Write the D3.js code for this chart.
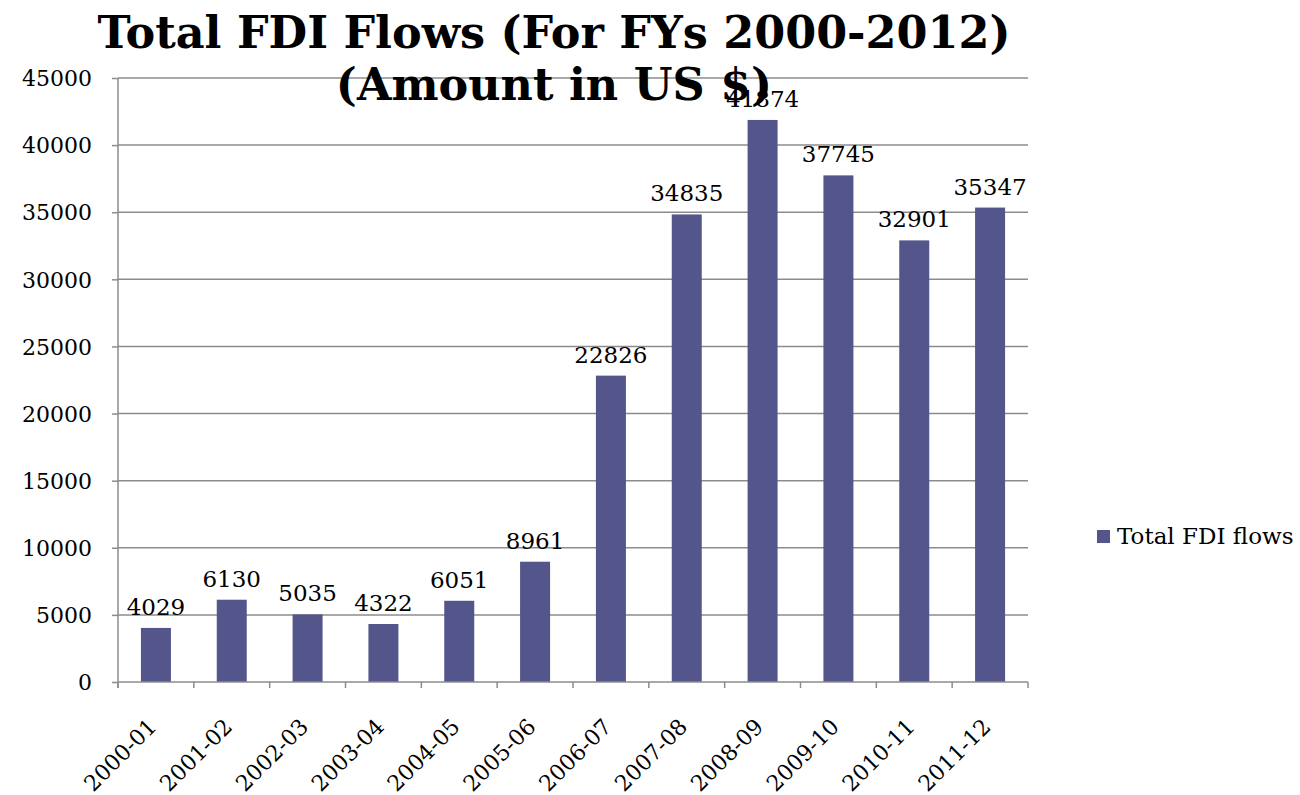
<!DOCTYPE html>
<html>
<head>
<meta charset="utf-8">
<script src="https://cdn.jsdelivr.net/npm/d3@7"></script>
<style>
  html, body { margin: 0; padding: 0; background: #fff; }
  svg { display: block; }
</style>
</head>
<body>
<svg id="chart" width="1300" height="795"></svg>
<script>
// Fiscal years and total FDI flows (US $)
const years = ["2000-01", "2001-02", "2002-03", "2003-04", "2004-05", "2005-06",
               "2006-07", "2007-08", "2008-09", "2009-10", "2010-11", "2011-12"];
const fdiFlows = [4029, 6130, 5035, 4322, 6051, 8961, 22826, 34835, 41874, 37745, 32901, 35347];
const yTicks = [0, 5000, 10000, 15000, 20000, 25000, 30000, 35000, 40000, 45000];
const seriesName = "Total FDI flows";
const titleLines = ["Total FDI Flows (For FYs 2000-2012)", "(Amount in US $)"];

const svg = d3.select("#chart");
const serif = "'DejaVu Serif', 'Liberation Serif', serif";
const barColor = "#54558a";
const gridColor = "#8c8c8c";

const plot = { left: 118, right: 1028, top: 78, bottom: 682 };

const x = d3.scaleBand().domain(years).range([plot.left, plot.right]).paddingInner(0).paddingOuter(0);
const y = d3.scaleLinear().domain([0, 45000]).range([plot.bottom, plot.top]);

// horizontal gridlines
svg.append("g")
  .selectAll("line")
  .data(yTicks.filter(d => d > 0))
  .join("line")
  .attr("x1", plot.left).attr("x2", plot.right)
  .attr("y1", d => y(d)).attr("y2", d => y(d))
  .attr("stroke", gridColor).attr("stroke-width", 1.5);

// bars
const barW = 30;
svg.append("g")
  .selectAll("rect")
  .data(years)
  .join("rect")
  .attr("x", (d) => x(d) + x.bandwidth() / 2 - barW / 2)
  .attr("width", barW)
  .attr("y", (d, i) => y(fdiFlows[i]))
  .attr("height", (d, i) => y(0) - y(fdiFlows[i]))
  .attr("fill", barColor);

// y axis
const yAxis = svg.append("g")
  .attr("transform", `translate(${plot.left},0)`)
  .call(d3.axisLeft(y).tickValues(yTicks).tickSize(6).tickPadding(20).tickFormat(d => String(d)));
yAxis.select(".domain").attr("stroke", gridColor).attr("stroke-width", 1.5)
  .attr("d", `M0,${plot.top}V${plot.bottom + 6}`);
yAxis.selectAll(".tick line").attr("stroke", gridColor).attr("stroke-width", 1.5);
yAxis.selectAll(".tick text")
  .attr("font-family", serif).attr("font-size", 22).attr("fill", "#000")
  .attr("dy", "0.35em");

// x axis with ticks on category boundaries
const xAxis = svg.append("g").attr("transform", `translate(0,${plot.bottom})`);
xAxis.append("line")
  .attr("x1", plot.left).attr("x2", plot.right)
  .attr("stroke", gridColor).attr("stroke-width", 1.5);
const bounds = years.map(d => x(d)).concat([plot.right]);
xAxis.selectAll("line.tk")
  .data(bounds)
  .join("line")
  .attr("class", "tk")
  .attr("x1", d => d).attr("x2", d => d)
  .attr("y1", 0).attr("y2", 6)
  .attr("stroke", gridColor).attr("stroke-width", 1.5);
xAxis.selectAll("text")
  .data(years)
  .join("text")
  .attr("transform", d => `translate(${x(d) + x.bandwidth() / 2 + 2},${46}) rotate(-45)`)
  .attr("text-anchor", "end")
  .attr("font-family", serif).attr("font-size", 22)
  .attr("fill", "#000")
  .text(d => d);

// value labels above bars
svg.append("g")
  .selectAll("text")
  .data(years)
  .join("text")
  .attr("x", d => x(d) + x.bandwidth() / 2)
  .attr("y", (d, i) => y(fdiFlows[i]) - 13)
  .attr("text-anchor", "middle")
  .attr("font-family", serif).attr("font-size", 23)
  .attr("fill", "#000")
  .text((d, i) => fdiFlows[i]);

// title (drawn over the plot)
const title = svg.append("g");
titleLines.forEach((t, i) => {
  title.append("text")
    .attr("x", 554).attr("y", 48 + i * 52)
    .attr("text-anchor", "middle")
    .attr("font-family", serif).attr("font-weight", "bold").attr("font-size", 44)
    .attr("fill", "#000")
    .text(t);
});
// scale the first line to its measured span
const first = title.select("text").node();
const w = first.getComputedTextLength();
const fs = 44 * 913 / w;
title.selectAll("text").attr("font-size", fs);

// legend
const legend = svg.append("g").attr("transform", "translate(1097,530)");
legend.append("rect").attr("width", 13).attr("height", 13).attr("fill", barColor);
legend.append("text")
  .attr("x", 20).attr("y", 14)
  .attr("font-family", serif).attr("font-size", 23).attr("fill", "#000")
  .text(seriesName);
</script>
</body>
</html>
